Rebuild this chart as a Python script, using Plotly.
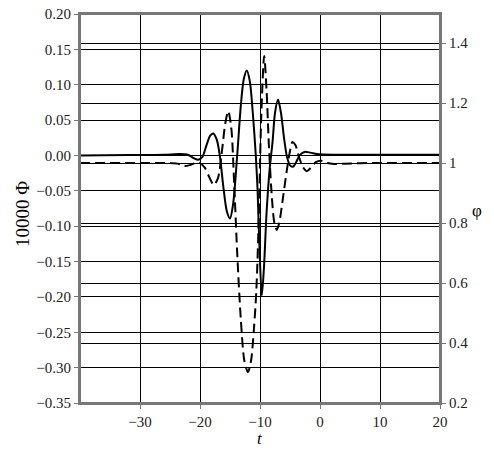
import plotly.graph_objects as go

# solid curve: 10000 Phi (left axis)
t_sol = [-40, -32, -26, -23.5, -22, -21, -20.3, -19.6, -18.9, -18.3, -17.8, -17.2,
         -16.7, -16.1, -15.5, -15.0, -14.5, -13.8, -13.2, -12.7, -12.2, -11.7, -11.2,
         -10.7, -10.4, -10.05, -9.7, -9.35, -8.9, -8.4, -7.9, -7.5, -7.0, -6.5, -6.0,
         -5.5, -5.0, -4.5, -4.0, -3.4, -2.6, -1.6, -0.5, 2, 6, 12, 20]
phi_big = [0.0, 0.0005, 0.001, 0.002, 0.001, -0.004, -0.006, -0.002, 0.015, 0.028, 0.031, 0.022,
           0.0, -0.045, -0.08, -0.089, -0.07, 0.0, 0.07, 0.108, 0.12, 0.105, 0.06,
           0.0, -0.05, -0.14, -0.198, -0.16, -0.08, -0.02, 0.02, 0.06, 0.079, 0.06, 0.025,
           -0.002, -0.014, -0.016, -0.01, 0.0, 0.005, 0.004, 0.002, 0.001, 0.001, 0.001, 0.001]

# dashed curve: phi (right axis)
t_das = [-40, -30, -25, -23.5, -22.6, -21.7, -20.8, -20.0, -19.2, -18.5, -17.7, -17.0,
         -16.4, -15.8, -15.3, -14.8, -14.3, -13.8, -13.2, -12.6, -12.0, -11.5, -11.0,
         -10.6, -10.2, -9.8, -9.3, -8.9, -8.5, -8.0, -7.6, -7.2, -6.8, -6.2, -5.5,
         -5.0, -4.6, -4.1, -3.5, -2.8, -2.2, -1.5, -0.7, 0.2, 1.2, 2.4, 4, 8, 20]
phi_small = [1.0, 1.0, 1.0, 0.997, 0.99, 0.993, 1.0, 1.0, 0.985, 0.955, 0.927, 0.95,
             1.03, 1.13, 1.173, 1.12, 0.93, 0.7, 0.48, 0.34, 0.303, 0.34, 0.45,
             0.58, 0.82, 1.15, 1.357, 1.24, 1.05, 0.88, 0.8, 0.777, 0.8, 0.88, 0.98,
             1.04, 1.07, 1.06, 1.02, 0.985, 0.973, 0.985, 1.003, 1.008, 1.0, 0.997, 0.998, 1.0, 1.0]

x_ticks = [-30, -20, -10, 0, 10, 20]
y2_ticks = [0.2, 0.4, 0.6, 0.8, 1.0, 1.2, 1.4]

FONT = "Liberation Serif"
FRAME = "#777777"

fig = go.Figure()

fig.add_trace(go.Scatter(
    x=t_sol, y=phi_big, mode="lines",
    line=dict(color="black", width=2, shape="spline", smoothing=0.8),
    showlegend=False, yaxis="y",
))
fig.add_trace(go.Scatter(
    x=t_das, y=phi_small, mode="lines",
    line=dict(color="black", width=2, dash="10px,5px", shape="spline", smoothing=0.8),
    showlegend=False, yaxis="y2",
))

# page has an 8px body margin, so the figure is offset by 8px
fig.update_layout(
    width=486, height=446,
    margin=dict(l=72, r=54, t=6, b=51, autoexpand=False),
    paper_bgcolor="white", plot_bgcolor="white",
    font=dict(family=FONT, size=15, color="#222"),
    xaxis=dict(
        range=[-40, 20], tickvals=x_ticks, ticks="outside", ticklen=4, tickcolor=FRAME,
        showgrid=True, gridcolor="black", gridwidth=1, zeroline=False, automargin=False,
        showline=True, linecolor=FRAME, linewidth=2, mirror=True,
        ticklabeloverflow="allow",
    ),
    yaxis=dict(
        range=[-0.35, 0.20], dtick=0.05, tickformat=".2f", ticks="outside", ticklen=4,
        tickcolor=FRAME, showgrid=True, gridcolor="black", gridwidth=1, zeroline=False,
        showline=True, linecolor=FRAME, linewidth=2, mirror=True, automargin=False,
        ticklabeloverflow="allow",
    ),
    yaxis2=dict(
        range=[0.2, 1.497], tickvals=y2_ticks,
        overlaying="y", side="right", ticks="outside", ticklen=4, tickcolor=FRAME,
        showgrid=True, gridcolor="black", gridwidth=1, zeroline=False, automargin=False,
        showline=True, linecolor=FRAME, linewidth=2, ticklabeloverflow="allow",
    ),
    shapes=[
        # plot frame
        dict(type="rect", xref="paper", yref="paper", x0=0, x1=1, y0=0, y1=1,
             line=dict(color=FRAME, width=2), fillcolor="rgba(0,0,0,0)", layer="above"),
    ],
    annotations=[
        dict(text="10000 Φ", x=-0.158, y=0.486, xref="paper", yref="paper",
             xanchor="center", yanchor="middle",
             textangle=-90, showarrow=False, font=dict(family=FONT, size=19, color="black")),
        dict(text="φ", x=1.103, y=0.494, xref="paper", yref="paper",
             xanchor="center", yanchor="middle",
             showarrow=False, font=dict(family=FONT, size=17, color="black")),
        dict(text="<i>t</i>", x=0.5, y=-0.0925, xref="paper", yref="paper",
             xanchor="center", yanchor="middle",
             showarrow=False, font=dict(family=FONT, size=17, color="black")),
    ],
)

fig.write_html("out.html")
